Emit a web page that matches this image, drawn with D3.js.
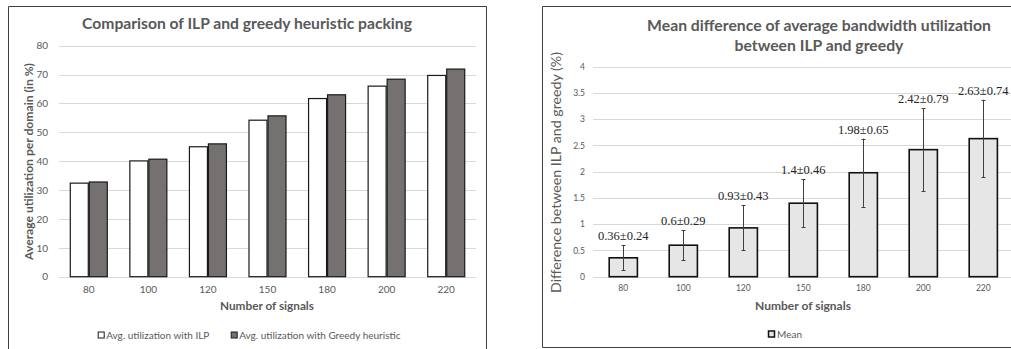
<!DOCTYPE html>
<html>
<head>
<meta charset="utf-8">
<script src="https://cdn.jsdelivr.net/npm/d3@7"></script>
<style>
  html, body { margin: 0; padding: 0; background: #fff; }
  svg { display: block; }
  text { font-family: Lato, "Open Sans", sans-serif; }
</style>
</head>
<body>
<svg id="chart" width="1011" height="349"></svg>
<script>
// ---- data ----
const signals = ["80", "100", "120", "150", "180", "200", "220"];
const ilpUtil = [32.4, 40.1, 45.0, 54.2, 61.7, 66.0, 69.7];
const greedyUtil = [32.8, 40.7, 46.0, 55.7, 63.0, 68.4, 71.9];
const utilTicks = [0, 10, 20, 30, 40, 50, 60, 70, 80];

const meanDiff = [0.36, 0.6, 0.93, 1.4, 1.98, 2.42, 2.63];
const sdDiff = [0.24, 0.29, 0.43, 0.46, 0.65, 0.79, 0.74];
const diffTicks = [0, 0.5, 1, 1.5, 2, 2.5, 3, 3.5, 4];

const seriesNames = ["Avg. utilization with ILP", "Avg. utilization with Greedy heuristic"];
const seriesFill = ["#ffffff", "#767171"];

const textGray = "#595959";
const gridGray = "#d9d9d9";

const svg = d3.select("#chart");

// Scale a text element's font size so it spans the given width
function fitWidth(sel, w) {
  const node = sel.node();
  const fs = parseFloat(sel.attr("font-size"));
  const len = node.getComputedTextLength();
  if (len > 0) sel.attr("font-size", (fs * w / len).toFixed(2));
  return sel;
}

// ================= Left chart: utilization comparison =================
(function () {
  const g = svg.append("g");
  // chart frame
  g.append("path")
    .attr("d", "M8.5,349 V6.5 H486.5 V349")
    .attr("fill", "none").attr("stroke", "#404040").attr("stroke-width", 1);

  const x = d3.scaleBand().domain(signals).range([59, 476])
    .paddingInner(0.362).paddingOuter(0.181);
  const xs = d3.scaleBand().domain([0, 1]).range([0, x.bandwidth()]);
  const y = d3.scaleLinear().domain([0, 80]).range([276.7, 45.7]);

  // gridlines
  g.append("g").selectAll("line").data(utilTicks).join("line")
    .attr("x1", 59).attr("x2", 476)
    .attr("y1", d => Math.round(y(d)) + 0.5).attr("y2", d => Math.round(y(d)) + 0.5)
    .attr("stroke", gridGray).attr("stroke-width", 1);

  // y axis labels
  const yAxis = d3.axisLeft(y).tickValues(utilTicks).tickSize(0).tickPadding(0);
  const ya = g.append("g").attr("transform", "translate(48,0)").call(yAxis);
  ya.select(".domain").remove();
  ya.selectAll("text").attr("fill", textGray).attr("font-size", 10)
    .style("font-family", "Lato, sans-serif");

  // x axis labels
  const xAxis = d3.axisBottom(x).tickSize(0).tickPadding(0);
  const xa = g.append("g").attr("transform", "translate(0,286)").call(xAxis);
  xa.select(".domain").remove();
  xa.selectAll("text").attr("fill", textGray).attr("font-size", 10)
    .style("font-family", "Lato, sans-serif");

  // bars
  const groups = g.append("g").selectAll("g").data(signals).join("g")
    .attr("transform", d => `translate(${x(d)},0)`);
  groups.selectAll("rect")
    .data((d, i) => [ilpUtil[i], greedyUtil[i]].map((v, k) => ({ v, k })))
    .join("rect")
    .attr("x", d => xs(d.k) + 0.5)
    .attr("y", d => y(d.v))
    .attr("width", xs.bandwidth() - 1)
    .attr("height", d => y(0) - y(d.v))
    .attr("fill", d => seriesFill[d.k])
    .attr("stroke", "#1a1a1a").attr("stroke-width", 1.2);

  // title
  fitWidth(g.append("text").attr("x", 247).attr("y", 29).attr("text-anchor", "middle")
    .attr("font-size", 15).attr("font-weight", "bold").attr("fill", textGray)
    .text("Comparison of ILP and greedy heuristic packing"), 330);

  // axis titles
  fitWidth(g.append("text").attr("x", 267).attr("y", 310).attr("text-anchor", "middle")
    .attr("font-size", 12).attr("font-weight", "bold").attr("fill", textGray)
    .text("Number of signals"), 94);
  fitWidth(g.append("text").attr("transform", "translate(33,161.5) rotate(-90)")
    .attr("text-anchor", "middle")
    .attr("font-size", 12).attr("font-weight", "bold").attr("fill", textGray)
    .text("Average utilization per domain (in %)"), 197);

  // legend
  const legX = [97.7, 230.7];
  const leg = g.append("g").selectAll("g").data(seriesNames).join("g")
    .attr("transform", (d, i) => `translate(${legX[i]},335)`);
  leg.append("rect").attr("x", 0.5).attr("y", -3).attr("width", 6).attr("height", 6)
    .attr("fill", (d, i) => seriesFill[i]).attr("stroke", "#1a1a1a").attr("stroke-width", 1);
  leg.append("text").attr("x", 8.5).attr("y", 3.6).attr("font-size", 10)
    .attr("fill", textGray).text(d => d);
})();

// ================= Right chart: mean difference =================
(function () {
  const g = svg.append("g");
  g.append("path")
    .attr("d", "M1011,6.5 H542.5 V347.5 H1011")
    .attr("fill", "none").attr("stroke", "#404040").attr("stroke-width", 1);

  const x = d3.scaleBand().domain(signals).range([593.3, 1013.3])
    .paddingInner(0.53).paddingOuter(0.265);
  const y = d3.scaleLinear().domain([0, 4]).range([276.7, 66.7]);

  g.append("g").selectAll("line").data(diffTicks).join("line")
    .attr("x1", 593).attr("x2", 1011)
    .attr("y1", d => Math.round(y(d)) + 0.5).attr("y2", d => Math.round(y(d)) + 0.5)
    .attr("stroke", gridGray).attr("stroke-width", 1);

  const yAxis = d3.axisLeft(y).tickValues(diffTicks).tickSize(0).tickPadding(0)
    .tickFormat(d3.format("~g"));
  const ya = g.append("g").attr("transform", "translate(585,0)").call(yAxis);
  ya.select(".domain").remove();
  ya.selectAll("text").attr("fill", textGray).attr("font-size", 8.5)
    .style("font-family", "Lato, sans-serif");

  const xAxis = d3.axisBottom(x).tickSize(0).tickPadding(0);
  const xa = g.append("g").attr("transform", "translate(0,285)").call(xAxis);
  xa.select(".domain").remove();
  xa.selectAll("text").attr("fill", textGray).attr("font-size", 8.5)
    .style("font-family", "Lato, sans-serif");

  const data = signals.map((s, i) => ({ s, m: meanDiff[i], e: sdDiff[i] }));

  // bars
  g.append("g").selectAll("rect").data(data).join("rect")
    .attr("x", d => x(d.s))
    .attr("y", d => y(d.m))
    .attr("width", x.bandwidth())
    .attr("height", d => y(0) - y(d.m))
    .attr("fill", "#e7e6e6").attr("stroke", "#111").attr("stroke-width", 1.6);

  // error bars
  const eb = g.append("g").attr("stroke", "#404040").attr("stroke-width", 1);
  const cx = d => Math.round(x(d.s) + x.bandwidth() / 2) + 0.5;
  eb.selectAll("line.v").data(data).join("line").attr("class", "v")
    .attr("x1", cx).attr("x2", cx)
    .attr("y1", d => y(d.m - d.e)).attr("y2", d => y(d.m + d.e));
  ["hi", "lo"].forEach(k => {
    eb.selectAll("line." + k).data(data).join("line").attr("class", k)
      .attr("x1", d => cx(d) - 2).attr("x2", d => cx(d) + 2)
      .attr("y1", d => Math.round(y(k === "hi" ? d.m + d.e : d.m - d.e)) + 0.5)
      .attr("y2", d => Math.round(y(k === "hi" ? d.m + d.e : d.m - d.e)) + 0.5);
  });

  // value labels
  g.append("g").selectAll("text").data(data).join("text")
    .attr("x", d => x(d.s) + x.bandwidth() / 2)
    .attr("y", d => y(d.m + d.e) - 5)
    .attr("text-anchor", "middle")
    .attr("font-size", 12.5).attr("fill", "#262626")
    .style("font-family", "'Liberation Serif', 'DejaVu Serif', serif")
    .text(d => `${d.m}\u00B1${d.e}`);

  // two-line title
  const t1 = fitWidth(g.append("text").attr("x", 819).attr("y", 31).attr("text-anchor", "middle")
    .attr("font-size", 15).attr("font-weight", "bold").attr("fill", textGray)
    .text("Mean difference of average bandwidth utilization"), 344);
  g.append("text").attr("x", 819).attr("y", 51).attr("text-anchor", "middle")
    .attr("font-size", t1.attr("font-size"))
    .attr("font-weight", "bold").attr("fill", textGray)
    .text("between ILP and greedy");

  fitWidth(g.append("text").attr("x", 803).attr("y", 310).attr("text-anchor", "middle")
    .attr("font-size", 12).attr("font-weight", "bold").attr("fill", textGray)
    .text("Number of signals"), 96);
  fitWidth(g.append("text").attr("transform", "translate(561,172.5) rotate(-90)")
    .attr("text-anchor", "middle")
    .attr("font-size", 12).attr("fill", textGray)
    .text("Difference between ILP and greedy (%)"), 241);

  // legend
  const leg = g.append("g").attr("transform", "translate(768,334)");
  leg.append("rect").attr("x", 0.5).attr("y", -3).attr("width", 6).attr("height", 6)
    .attr("fill", "#e7e6e6").attr("stroke", "#111").attr("stroke-width", 1.5);
  leg.append("text").attr("x", 9).attr("y", 3.6).attr("font-size", 10)
    .attr("fill", textGray).text("Mean");
})();
</script>
</body>
</html>
